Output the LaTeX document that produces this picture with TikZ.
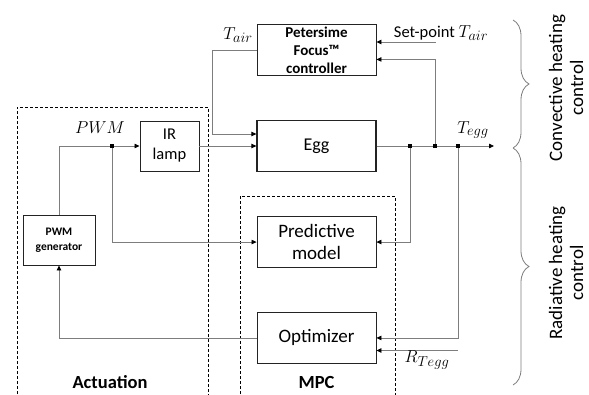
\documentclass[tikz,border=0pt]{standalone}
\usepackage{fontspec}
\setmainfont{Carlito}
\usepackage{amsmath}
\usetikzlibrary{arrows.meta,positioning,calc,decorations.pathreplacing}
\definecolor{mpcedge}{RGB}{35,35,35}
\definecolor{mpcline}{RGB}{125,125,125}
\tikzset{
  blk/.style={
    draw=mpcedge, line width=0.9pt, align=center, inner sep=2pt,
    font=\fontsize{19}{22}\selectfont,
    minimum width=119pt, minimum height=51pt
  },
  sblk/.style={blk, font=\fontsize{15}{18}\selectfont\bfseries},
  arr/.style={-{Triangle[length=5pt,width=4.5pt,color=black]}, draw=mpcline, line width=0.8pt},
  jdot/.style={fill=black, inner sep=0pt, minimum size=4.5pt},
  grp/.style={draw=black, line width=0.8pt, dash pattern=on 3pt off 2pt},
  lbl/.style={font=\fontsize{18.5}{21}\selectfont\bfseries},
  sig/.style={font=\fontsize{19}{22}\selectfont},
  brc/.style={draw=mpcline, line width=0.8pt, decorate, decoration={brace, amplitude=16pt}},
  side/.style={rotate=90, align=center, font=\fontsize{19}{21}\selectfont}
}
\begin{document}
\begin{tikzpicture}[x=1pt, y=1pt, node distance=44pt]
  \useasboundingbox (0,0) rectangle (589,394);
  % blocks
  \node[blk, line width=1.2pt, font=\fontsize{18}{21}\selectfont] (egg) at (316.5,248) {Egg};
  \node[sblk] (ctrl) [above=of egg] {Petersime\\Focus™\\controller};
  \node[blk] (model) [below=of egg] {Predictive\\model};
  \node[blk] (opt) [below=of model] {Optimizer};
  \node[blk, minimum width=59pt, minimum height=50pt, font=\fontsize{16.5}{20}\selectfont] (lamp) [left=57pt of egg] {IR\\lamp};
  \node[sblk, minimum width=72pt, minimum height=50pt, font=\fontsize{11.5}{15}\selectfont\bfseries] (pwm) at (59,154) {PWM\\generator};
  % groups
  \draw[grp] (17,-5) -- (17,287) -- (208,287) -- (208,-5);
  \draw[grp] (240,-5) -- (240,198) -- (395,198) -- (395,-5);
  \node[lbl] (act) at (110,12) {Actuation};
  \node[lbl] (mpc) at (316.5,12) {MPC};
  % junctions
  \coordinate (jp) at (112,248);
  \coordinate (j1) at (410,248);
  \coordinate (j2) at (435,248);
  \coordinate (j3) at (458,248);
  \coordinate (out) at (494,248);
  \coordinate (sp) at (436,352);
  \coordinate (rin) at (458,43.5);
  % connectors
  \draw[arr] (ctrl.west) -- ++(-44,0) |- ($(egg.west)+(0,12)$);
  \draw[arr] (pwm.north) |- (lamp.west);
  \draw[arr] (jp) |- (model.west);
  \draw[arr] (lamp.east) -- (egg.west);
  \draw[arr] (egg.east) -- (out);
  \draw[arr] (j2) |- ($(ctrl.east)+(0,-9.5)$);
  \draw[arr] (sp) -- (ctrl.east |- sp);
  \draw[arr] (j1) |- (model.east);
  \draw[arr] (j3) |- (opt.east);
  \draw[arr] (rin) -- (opt.east |- rin);
  \draw[arr] (opt.west) -| (pwm.south);
  \foreach \j in {jp,j1,j2,j3}
    \node[jdot] (\j d) at (\j) {};
  % signal labels
  \node[sig] (tair) at (238,359) {$T_{air}$};
  \node[sig, font=\fontsize{16.5}{19}\selectfont] (setp) at (441,361) {Set-point \fontsize{19}{22}\selectfont$T_{air}$};
  \node[sig, font=\fontsize{17}{20}\selectfont] (pwml) at (100,266) {$PWM$};
  \node[sig] (tegg) at (473,264) {$T_{egg}$};
  \node[sig] (rtegg) at (427,34) {$R_{Tegg}$};
  % braces
  \draw[brc] (513,374) -- (513,246);
  \draw[brc] (513,246) -- (513,9);
  \node[side] (conv) at (566,306) {Convective heating\\control};
  \node[side] (rad) at (566,121) {Radiative heating\\control};
\end{tikzpicture}
\end{document}
